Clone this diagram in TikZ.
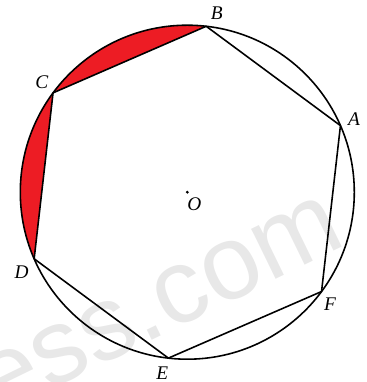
\documentclass[tikz,border=0pt]{standalone}
\usepackage{fontspec}
\setmainfont{Liberation Serif}
\setsansfont{Liberation Sans}
\definecolor{segred}{RGB}{237,28,36}
\begin{document}
\begin{tikzpicture}[x=0.02cm,y=0.02cm,line width=0.9pt,
  lbl/.style={font=\fontsize{11}{13}\selectfont\itshape, inner sep=0pt}]

% Frame
\useasboundingbox (-187.3,-189.8) rectangle (178.7,192.2);
\clip (-187.3,-189.8) rectangle (178.7,192.2);

% Watermark
\node[gray!18, font=\sffamily\fontsize{60}{60}\selectfont, rotate=26] (wm) at (-27,-113) {ess.com};

% Vertices
\coordinate (O) at (0,0);
\coordinate (A) at (23.5:167);
\coordinate (B) at (83.5:167);
\coordinate (C) at (143.5:167);
\coordinate (D) at (203.5:167);
\coordinate (E) at (263.5:167);
\coordinate (F) at (323.5:167);

% Shaded segments
\fill[segred] (B) arc[start angle=83.5, end angle=143.5, radius=167] -- cycle;
\fill[segred] (C) arc[start angle=143.5, end angle=203.5, radius=167] -- cycle;

% Circle
\draw (O) circle[radius=167];

% Hexagon
\draw[line join=round] (A) -- (B) -- (C) -- (D) -- (E) -- (F) -- cycle;

% Centre
\fill (O) circle[radius=1.6];

% Labels
\node[lbl] (lA) at (166.7,72.9) {A};
\node[lbl] (lB) at (29.4,178.9) {B};
\node[lbl] (lC) at (-145.6,110.5) {C};
\node[lbl] (lD) at (-165.6,-79.5) {D};
\node[lbl] (lE) at (-25,-181.1) {E};
\node[lbl] (lF) at (142.7,-111.8) {F};
\node[lbl] (lO) at (7,-11.8) {O};

\end{tikzpicture}
\end{document}
